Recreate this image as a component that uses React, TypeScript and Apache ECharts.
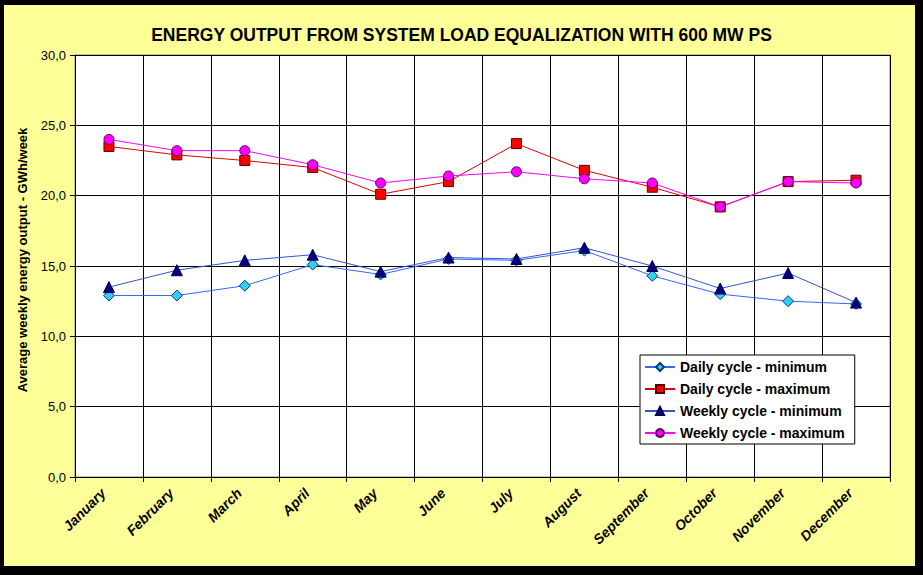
import React, { useEffect, useRef } from "react";
import * as echarts from "echarts";

const months = ["January", "February", "March", "April", "May", "June", "July", "August", "September", "October", "November", "December"];
const dailyMin = [12.9, 12.9, 13.6, 15.1, 14.4, 15.5, 15.4, 16.1, 14.3, 13.0, 12.5, 12.3];
const dailyMax = [23.5, 22.9, 22.5, 22.0, 20.1, 21.0, 23.7, 21.8, 20.6, 19.2, 21.0, 21.1];
const weeklyMin = [13.5, 14.7, 15.4, 15.8, 14.6, 15.6, 15.5, 16.3, 15.0, 13.4, 14.5, 12.4];
const weeklyMax = [24.0, 23.2, 23.2, 22.2, 20.9, 21.4, 21.7, 21.2, 20.9, 19.2, 21.0, 20.9];
const seriesNames = ["Daily cycle - minimum", "Daily cycle - maximum", "Weekly cycle - minimum", "Weekly cycle - maximum"];
const titleText = "ENERGY OUTPUT FROM SYSTEM LOAD EQUALIZATION WITH 600 MW PS";
const yAxisTitle = "Average weekly energy output - GWh/week";

const FONT = "'Liberation Sans', Arial, sans-serif";

export default function App() {
  const ref = useRef<HTMLDivElement>(null);
  useEffect(() => {
    document.body.style.margin = "0";
    const chart = echarts.init(ref.current!, null, { renderer: "svg" });
    const mk = (name: string, data: number[], symbol: string, size: number, fill: string, border: string, line: string) => ({
      name,
      type: "line",
      data,
      symbol,
      symbolSize: size,
      showSymbol: true,
      itemStyle: { color: fill, borderColor: border, borderWidth: 1 },
      lineStyle: { color: line, width: 1 },
      emphasis: { disabled: true },
    });
    chart.setOption({
      animation: false,
      backgroundColor: "#000000",
      textStyle: { fontFamily: FONT },
      graphic: [
        { type: "rect", shape: { x: 4, y: 5, width: 911, height: 561 }, style: { fill: "#FFFF99" }, z: -10 },
      ],
      title: {
        text: titleText,
        left: "center",
        top: 21,
        textStyle: { fontFamily: FONT, fontWeight: "bold", fontSize: 17.5, color: "#000" },
      },
      grid: {
        left: 75,
        right: 33,
        top: 55,
        bottom: 98,
        show: true,
        backgroundColor: "#FFFFFF",
        borderColor: "#808080",
        borderWidth: 1,
      },
      legend: {
        orient: "vertical",
        left: 640,
        top: 355,
        backgroundColor: "#FFFFFF",
        borderColor: "#000000",
        borderWidth: 1,
        padding: [5, 10, 4, 4],
        itemGap: 8,
        itemWidth: 30,
        itemHeight: 10,
        data: seriesNames,
        textStyle: { fontFamily: FONT, fontWeight: "bold", fontSize: 14, color: "#000" },
      },
      xAxis: {
        type: "category",
        data: months,
        boundaryGap: true,
        axisLine: { show: true, lineStyle: { color: "#000", width: 1 } },
        axisTick: { show: true, length: 5, lineStyle: { color: "#000" } },
        splitLine: { show: true, lineStyle: { color: "#000", width: 1 } },
        axisLabel: {
          rotate: 45,
          interval: 0,
          margin: 8,
          padding: [0, 8, 0, 0],
          fontFamily: FONT,
          fontStyle: "italic",
          fontWeight: "bold",
          fontSize: 14,
          color: "#000",
        },
      },
      yAxis: {
        type: "value",
        min: 0,
        max: 30,
        interval: 5,
        name: yAxisTitle,
        nameLocation: "middle",
        nameGap: 46,
        nameTextStyle: { fontFamily: FONT, fontWeight: "bold", fontSize: 13, color: "#000", padding: [0, 0, 0, 12] },
        axisLine: { show: true, lineStyle: { color: "#000", width: 1 } },
        axisTick: { show: true, length: 5, lineStyle: { color: "#000" } },
        splitLine: { show: true, lineStyle: { color: "#000", width: 1 } },
        axisLabel: {
          formatter: (v: number) => v.toFixed(1).replace(".", ","),
          fontFamily: FONT,
          fontSize: 13,
          color: "#000",
          margin: 9,
        },
      },
      series: [
        mk(seriesNames[0], dailyMin, "diamond", 11, "#33CCFF", "#004060", "#3366FF"),
        mk(seriesNames[1], dailyMax, "rect", 10, "#FF0000", "#600000", "#DD0000"),
        mk(seriesNames[2], weeklyMin, "triangle", 11, "#000080", "#000050", "#3355CC"),
        mk(seriesNames[3], weeklyMax, "circle", 10, "#FF00FF", "#600060", "#FF00FF"),
      ],
    });
    return () => chart.dispose();
  }, []);
  return <div ref={ref} style={{ position: "absolute", left: 0, top: 0, width: 923, height: 575 }} />;
}
